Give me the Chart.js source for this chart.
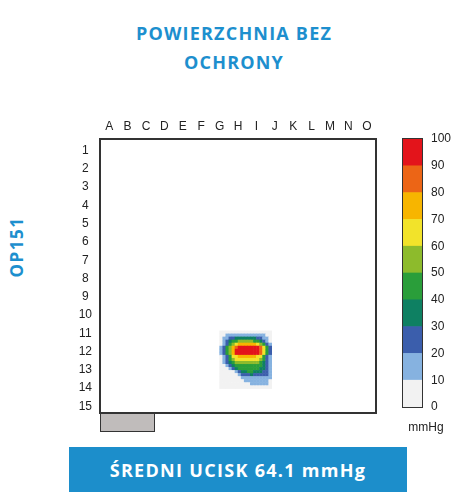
<!DOCTYPE html>
<html>
<head>
<meta charset="utf-8">
<script src="https://cdn.jsdelivr.net/npm/chart.js@4"></script>
<style>
  body { margin: 0; background: #fff; }
  #page { position: relative; width: 459px; height: 492px; overflow: hidden; background: #fff; }
  canvas { position: absolute; left: 0; top: 0; }
  .blue { color: #1d8fce; font-family: "Open Sans", sans-serif; font-weight: 700; }
  #title { position: absolute; left: 0; width: 468px; top: 19px; text-align: center; font-size: 18px; line-height: 29px; letter-spacing: 1.2px; }
  #side { position: absolute; left: 16px; top: 247px; font-size: 17px; letter-spacing: 1.5px; transform: translate(-50%, -50%) rotate(-90deg); }
  #unit { position: absolute; left: 403px; top: 420px; width: 46px; text-align: center; font: 12px "Liberation Sans", Arial, sans-serif; color: #222; }
  #plug { position: absolute; left: 100px; top: 413px; width: 53px; height: 17px; background: #c0bcbb; border: 1.5px solid #333; }
  #banner { position: absolute; left: 69px; top: 447px; width: 338px; height: 45px; background: #1c8ecb; color: #fff; text-align: center; line-height: 47px; font-family: "Open Sans", sans-serif; font-weight: 700; font-size: 18px; letter-spacing: 1.3px; }
</style>
</head>
<body>
<div id="page">
  <div id="title" class="blue">POWIERZCHNIA BEZ<br>OCHRONY</div>
  <div id="side" class="blue">OP151</div>
  <canvas id="map" width="459" height="492"></canvas>
  <canvas id="bar" width="459" height="492"></canvas>
  <div id="plug"></div>
  <div id="unit">mmHg</div>
  <div id="banner">ŚREDNI UCISK 64.1 mmHg</div>
</div>
<script>
const columnLabels = ["A", "B", "C", "D", "E", "F", "G", "H", "I", "J", "K", "L", "M", "N", "O"];
const rowLabels = ["1", "2", "3", "4", "5", "6", "7", "8", "9", "10", "11", "12", "13", "14", "15"];
const bandStarts = [0, 10, 20, 30, 40, 50, 60, 70, 80, 90];
const bandColors = ["#f2f2f2", "#86b2e0", "#3b5eac", "#0e8062", "#2a9e3a", "#8dbb2c", "#f2e32a", "#f7b500", "#ec6516", "#e3141b"];

// sensed patch: 6 sensors per grid cell, patch starts at column 6.5, row 10.5
const sensorsPerCell = 6;
const patchCol = 6.5;
const patchRow = 10.5;
// each digit = pressure band (0 = 0-10 mmHg ... 9 = 90-100 mmHg)
const pressureRows = [
  "00000000000000000",
  "00111111111111100",
  "01122333333322110",
  "01234455555443210",
  "01245677777765421",
  "12457899999998642",
  "12457999999998642",
  "12457999999998642",
  "01246677777766421",
  "01245666666665421",
  "01234555555554321",
  "00123444444444321",
  "00012344444443321",
  "00000123344333221",
  "00000012223222221",
  "00000001111111111",
  "00000000111111110",
  "00000000001111110",
  "00000000000000000"
];

const font = { family: "'Liberation Sans', Arial, sans-serif", size: 12 };
const ink = "#222";
const edge = { display: true, color: "#333", width: 2 };

const points = [];
pressureRows.forEach((row, j) => {
  row.split("").forEach((d, i) => {
    points.push({
      x: patchCol + (i + 0.5) / sensorsPerCell,
      y: patchRow + (j + 0.5) / sensorsPerCell,
      v: Number(d) * 10 + 5
    });
  });
});

function cellRadius(ctx) {
  const xs = ctx.chart.scales.x;
  const w = Math.abs(xs.getPixelForValue(1 / sensorsPerCell) - xs.getPixelForValue(0));
  return w / Math.SQRT2 + 0.35;
}

function bare(extra) {
  return Object.assign({
    display: true,
    ticks: { display: false },
    grid: { display: false, drawTicks: false },
    border: edge
  }, extra);
}

new Chart(document.getElementById("map"), {
  type: "scatter",
  data: {
    datasets: [{
      data: points,
      pointStyle: "rect",
      pointRadius: cellRadius,
      pointBorderWidth: 0,
      pointBackgroundColor: ctx => bandColors[Math.min(9, Math.floor(ctx.raw.v / 10))]
    }]
  },
  options: {
    responsive: false,
    animation: false,
    events: [],
    plugins: { legend: { display: false }, tooltip: { enabled: false } },
    layout: { padding: { left: 70, top: 115, right: 83, bottom: 79 } },
    scales: {
      x: {
        type: "linear", position: "top", min: 0, max: 15,
        afterBuildTicks: s => { s.ticks = columnLabels.map((_, i) => ({ value: i + 0.5 })); },
        ticks: { callback: (v, i) => columnLabels[i], font: font, color: ink, padding: 5, autoSkip: false, maxRotation: 0 },
        grid: { display: false, drawTicks: false },
        border: edge,
        afterFit: s => { s.height = 24; }
      },
      y: {
        type: "linear", position: "left", reverse: true, min: 0, max: 15,
        afterBuildTicks: s => { s.ticks = rowLabels.map((_, i) => ({ value: i + 0.5 })); },
        ticks: { callback: (v, i) => rowLabels[i], font: font, color: ink, padding: 8, crossAlign: "center", labelOffset: 2.5, autoSkip: false },
        grid: { display: false, drawTicks: false },
        border: edge,
        afterFit: s => { s.width = 30; }
      },
      xb: bare({ axis: "x", type: "linear", position: "bottom", min: 0, max: 15, afterFit: s => { s.height = 0; } }),
      yr: bare({ axis: "y", type: "linear", position: "right", min: 0, max: 15, afterFit: s => { s.width = 0; } })
    }
  }
});

new Chart(document.getElementById("bar"), {
  type: "bar",
  data: {
    labels: [""],
    datasets: bandStarts.map((b, i) => ({
      data: [[b, b + 10]],
      backgroundColor: bandColors[i],
      borderWidth: 0,
      barPercentage: 1,
      categoryPercentage: 1,
      grouped: false
    }))
  },
  options: {
    responsive: false,
    animation: false,
    events: [],
    plugins: { legend: { display: false }, tooltip: { enabled: false } },
    layout: { padding: { left: 403, top: 139, right: 0, bottom: 85 } },
    scales: {
      x: bare({ position: "bottom", afterFit: s => { s.height = 0; } }),
      xt: bare({ axis: "x", type: "category", position: "top", afterFit: s => { s.height = 0; } }),
      y: {
        position: "right", min: 0, max: 100,
        ticks: { stepSize: 10, font: font, color: ink, padding: 9 },
        grid: { display: false, drawTicks: false },
        border: edge,
        afterFit: s => { s.width = 37; }
      },
      yl: bare({ axis: "y", type: "linear", position: "left", min: 0, max: 100, afterFit: s => { s.width = 0; } })
    }
  }
});
</script>
</body>
</html>
